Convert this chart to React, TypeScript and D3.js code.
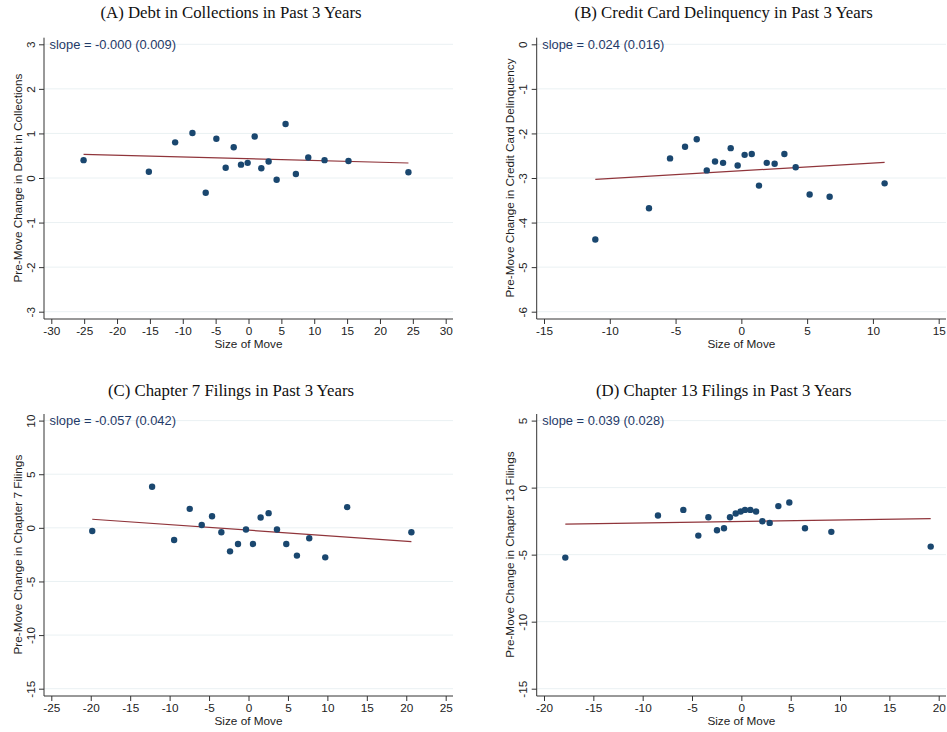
import React, { useRef, useEffect } from 'react';
import * as d3 from 'd3';

// Panel A: debt in collections
const debtX = [-25.09, -15.16, -11.16, -8.53, -6.51, -4.89, -3.47, -2.25, -1.14, -0.13, 0.94, 1.95, 3.06, 4.28, 5.64, 7.21, 9.09, 11.57, 15.21, 24.33];
const debtY = [0.4, 0.14, 0.8, 1.01, -0.33, 0.88, 0.23, 0.69, 0.3, 0.34, 0.93, 0.22, 0.37, -0.04, 1.21, 0.09, 0.46, 0.4, 0.38, 0.13];
const debtFitX = [-25.09, 24.33];
const debtFitY = [0.53, 0.337];

// Panel B: credit card delinquency
const ccX = [-11.1, -7.02, -5.42, -4.28, -3.39, -2.63, -2.0, -1.39, -0.81, -0.28, 0.25, 0.79, 1.34, 1.93, 2.53, 3.27, 4.13, 5.19, 6.71, 10.89];
const ccY = [-4.38, -3.68, -2.56, -2.3, -2.13, -2.83, -2.63, -2.66, -2.33, -2.72, -2.48, -2.46, -3.17, -2.66, -2.68, -2.46, -2.76, -3.37, -3.42, -3.12];
const ccFitX = [-11.1, 10.89];
const ccFitY = [-3.03, -2.65];

// Panel C: chapter 7 filings
const ch7X = [-19.81, -12.22, -9.43, -7.45, -5.93, -4.62, -3.44, -2.34, -1.33, -0.32, 0.57, 1.54, 2.55, 3.61, 4.79, 6.14, 7.7, 9.73, 12.51, 20.65];
const ch7Y = [-0.29, 3.83, -1.13, 1.77, 0.27, 1.08, -0.41, -2.19, -1.5, -0.16, -1.5, 0.96, 1.37, -0.16, -1.5, -2.59, -0.97, -2.75, 1.93, -0.41];
const ch7FitX = [-19.81, 20.65];
const ch7FitY = [0.8, -1.28];

// Panel D: chapter 13 filings
const ch13X = [-17.84, -8.45, -5.88, -4.36, -3.34, -2.47, -1.76, -1.15, -0.57, -0.07, 0.37, 0.91, 1.49, 2.13, 2.87, 3.75, 4.86, 6.45, 9.12, 19.19];
const ch13Y = [-5.22, -2.08, -1.66, -3.58, -2.21, -3.18, -3.03, -2.21, -1.93, -1.78, -1.66, -1.66, -1.78, -2.51, -2.63, -1.38, -1.11, -3.03, -3.3, -4.4];
const ch13FitX = [-17.84, 19.19];
const ch13FitY = [-2.73, -2.31];

const ticksA_x = [-30, -25, -20, -15, -10, -5, 0, 5, 10, 15, 20, 25, 30];
const ticksA_y = [-3, -2, -1, 0, 1, 2, 3];
const ticksB_x = [-15, -10, -5, 0, 5, 10, 15];
const ticksB_y = [-6, -5, -4, -3, -2, -1, 0];
const ticksC_x = [-25, -20, -15, -10, -5, 0, 5, 10, 15, 20, 25];
const ticksC_y = [-15, -10, -5, 0, 5, 10];
const ticksD_x = [-20, -15, -10, -5, 0, 5, 10, 15, 20];
const ticksD_y = [-15, -10, -5, 0, 5];

const titles = [
  '(A) Debt in Collections in Past 3 Years',
  '(B) Credit Card Delinquency in Past 3 Years',
  '(C) Chapter 7 Filings in Past 3 Years',
  '(D) Chapter 13 Filings in Past 3 Years',
];
const yTitles = [
  'Pre-Move Change in Debt in Collections',
  'Pre-Move Change in Credit Card Delinquency',
  'Pre-Move Change in Chapter 7 Filings',
  'Pre-Move Change in Chapter 13 Filings',
];
const slopes = ['slope = -0.000 (0.009)', 'slope = 0.024 (0.016)', 'slope = -0.057 (0.042)', 'slope = 0.039 (0.028)'];

const SANS = 'Liberation Sans, Arial, sans-serif';
const SERIF = 'Liberation Serif, Times New Roman, serif';
const DOT = '#1a476f';
const FIT = '#90353b';
const GRID = '#eaf1f3';
const AXIS = '#333333';

const drawPanel = (g, p) => {
  const xScale = d3.scaleLinear().domain(d3.extent(p.xTicks)).range([p.axisX + 7.3, p.right - 7.3]);
  const yScale = d3.scaleLinear().domain(d3.extent(p.yTicks)).range([p.axisY - 7.3, p.top + 6.6]);
  const fmt = (d) => String(d); // plain hyphen minus, like the original

  // Gridlines
  g.selectAll('.grid')
    .data(p.yTicks)
    .enter()
    .append('line')
    .attr('x1', p.axisX)
    .attr('x2', p.right)
    .attr('y1', (d) => yScale(d))
    .attr('y2', (d) => yScale(d))
    .attr('stroke', GRID)
    .attr('stroke-width', 1);

  // Axes
  const yAxis = d3.axisLeft(yScale).tickValues(p.yTicks).tickSize(5).tickSizeOuter(0).tickFormat(fmt);
  const xAxis = d3.axisBottom(xScale).tickValues(p.xTicks).tickSize(5).tickSizeOuter(0).tickFormat(fmt);

  const ya = g.append('g').attr('transform', `translate(${p.axisX},0)`).call(yAxis);
  ya.select('.domain').attr('d', `M0,${p.top}V${p.axisY}`).attr('stroke', AXIS);
  ya.selectAll('.tick line').attr('stroke', AXIS);
  ya.selectAll('.tick text')
    .attr('x', null)
    .attr('dy', null)
    .attr('text-anchor', 'middle')
    .attr('dominant-baseline', 'central')
    .attr('transform', 'translate(-14,0) rotate(-90)')
    .attr('font-family', SANS)
    .attr('font-size', 11.75)
    .attr('fill', '#222');

  const xa = g.append('g').attr('transform', `translate(0,${p.axisY})`).call(xAxis);
  xa.select('.domain').attr('d', `M${p.axisX},0H${p.right}`).attr('stroke', AXIS);
  xa.selectAll('.tick line').attr('stroke', AXIS);
  xa.selectAll('.tick text')
    .attr('y', 8)
    .attr('dy', '0.71em')
    .attr('font-family', SANS)
    .attr('font-size', 11.75)
    .attr('fill', '#222');

  // Fit line
  const fit = p.fitX.map((x, i) => [x, p.fitY[i]]);
  g.append('path')
    .attr('d', d3.line().x((d) => xScale(d[0])).y((d) => yScale(d[1]))(fit))
    .attr('fill', 'none')
    .attr('stroke', FIT)
    .attr('stroke-width', 1.2);

  // Points
  g.selectAll('.dot')
    .data(p.xs.map((x, i) => [x, p.ys[i]]))
    .enter()
    .append('circle')
    .attr('cx', (d) => xScale(d[0]))
    .attr('cy', (d) => yScale(d[1]))
    .attr('r', 3.2)
    .attr('fill', DOT);

  // Labels
  g.append('text')
    .attr('x', p.axisX + 5.5)
    .attr('y', yScale(p.yTicks[p.yTicks.length - 1]))
    .attr('dominant-baseline', 'central')
    .attr('font-family', SANS)
    .attr('font-size', 12.9)
    .attr('fill', '#1f3a68')
    .text(p.slope);

  g.append('text')
    .attr('x', (xScale.range()[0] + xScale.range()[1]) / 2)
    .attr('y', p.axisY + 28.5)
    .attr('text-anchor', 'middle')
    .attr('font-family', SANS)
    .attr('font-size', 11.75)
    .attr('fill', '#222')
    .text('Size of Move');

  g.append('text')
    .attr('transform', `translate(${p.axisX - 27},${(yScale.range()[0] + yScale.range()[1]) / 2}) rotate(-90)`)
    .attr('text-anchor', 'middle')
    .attr('dominant-baseline', 'central')
    .attr('font-family', SANS)
    .attr('font-size', 11.75)
    .attr('fill', '#222')
    .text(p.yTitle);

  g.append('text')
    .attr('x', p.axisX + 187)
    .attr('y', p.titleY)
    .attr('text-anchor', 'middle')
    .attr('font-family', SERIF)
    .attr('font-size', 16.8)
    .attr('fill', '#111')
    .text(p.title);
};

const App = () => {
  const chartRef = useRef(null);

  useEffect(() => {
    document.body.style.margin = '0';
    const svg = d3.select(chartRef.current);
    svg.selectAll('*').remove();

    const panels = [
      { xs: debtX, ys: debtY, fitX: debtFitX, fitY: debtFitY, xTicks: ticksA_x, yTicks: ticksA_y, axisX: 44, right: 453, top: 37.7, axisY: 319, titleY: 18.3 },
      { xs: ccX, ys: ccY, fitX: ccFitX, fitY: ccFitY, xTicks: ticksB_x, yTicks: ticksB_y, axisX: 536.7, right: 946, top: 37.7, axisY: 319, titleY: 18.3 },
      { xs: ch7X, ys: ch7Y, fitX: ch7FitX, fitY: ch7FitY, xTicks: ticksC_x, yTicks: ticksC_y, axisX: 44, right: 453, top: 414, axisY: 696, titleY: 395.7 },
      { xs: ch13X, ys: ch13Y, fitX: ch13FitX, fitY: ch13FitY, xTicks: ticksD_x, yTicks: ticksD_y, axisX: 536.7, right: 946, top: 414, axisY: 696, titleY: 395.7 },
    ];

    panels.forEach((p, i) => {
      drawPanel(svg.append('g'), { ...p, title: titles[i], yTitle: yTitles[i], slope: slopes[i] });
    });
  }, []);

  return <svg ref={chartRef} width={947} height={732} style={{ display: 'block', background: '#fff' }} />;
};

export default App;
